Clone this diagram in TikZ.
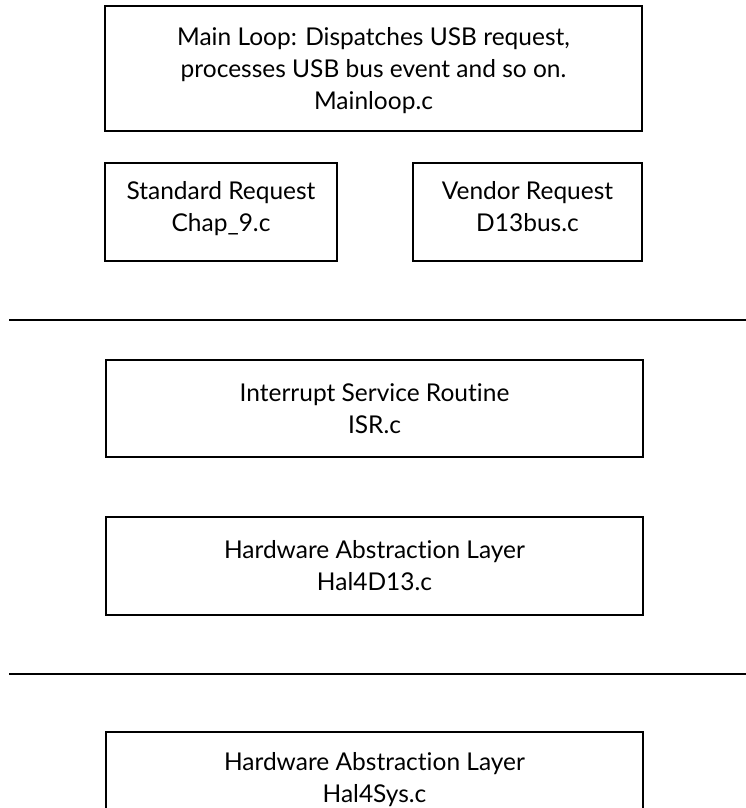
\documentclass[tikz,border=0pt]{standalone}
\usepackage{fontspec}
\setmainfont[Ligatures=NoCommon]{Lato}
\begin{document}
\begin{tikzpicture}[x=1pt,y=-1pt,
  blk/.style={draw=black,line width=1.3pt,inner sep=0pt,align=center,
    font=\fontsize{24.5}{32}\selectfont},
  sep/.style={draw=black,line width=1.5pt}]
\useasboundingbox (0,0) rectangle (746,808);
\clip (0,0) rectangle (746,808);
\node[blk,minimum width=537pt,minimum height=125pt,text depth=1pt] (main) at (373.5,68.5)
  {Main Loop: Dispatches USB request,\\processes USB bus event and so on.\\Mainloop.c};
\node[blk,minimum width=232pt,minimum height=98pt,text depth=12pt] (std) at (221,212)
  {Standard Request\\Chap\_9.c};
\node[blk,minimum width=229pt,minimum height=98pt,text depth=12pt] (ven) at (527.5,212)
  {Vendor Request\\D13bus.c};
\coordinate (l1a) at (9,320);
\coordinate (l1b) at (746,320);
\draw[sep] (l1a) -- (l1b);
\node[blk,minimum width=537pt,minimum height=97pt] (isr) at (374.5,408.5)
  {Interrupt Service Routine\\ISR.c};
\node[blk,minimum width=537pt,minimum height=98pt] (hal1) at (374.5,566)
  {Hardware Abstraction Layer\\Hal4D13.c};
\coordinate (l2a) at (9,674);
\coordinate (l2b) at (746,674);
\draw[sep] (l2a) -- (l2b);
\node[blk,minimum width=537pt,minimum height=96pt] (hal2) at (374.5,780)
  {Hardware Abstraction Layer\\Hal4Sys.c};
\end{tikzpicture}
\end{document}
